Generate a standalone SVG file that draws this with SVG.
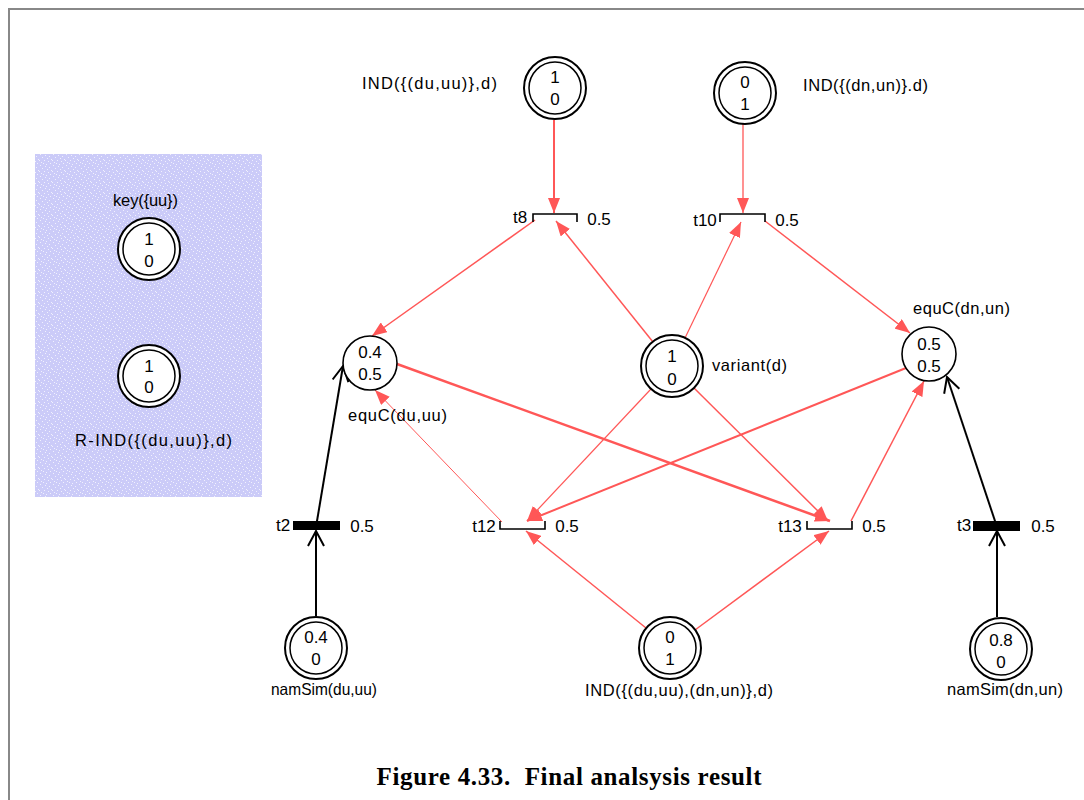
<svg xmlns="http://www.w3.org/2000/svg" width="1084" height="800" viewBox="0 0 1084 800">
  <style>
    .t { font-family: "Liberation Sans", Arial, sans-serif; font-size: 16.5px; fill: #000; }
    .n { font-family: "Liberation Sans", Arial, sans-serif; font-size: 17px; fill: #000; text-anchor: middle; }
    .outer { fill: #fff; stroke: #000; stroke-width: 2; }
    .inner { fill: none; stroke: #000; stroke-width: 1.5; }
    .single { fill: #fff; stroke: #000; stroke-width: 1.6; }
    .bar { fill: none; stroke: #000; stroke-width: 1.6; }
    .solid { fill: #000; }
    .red { stroke: #ff5757; fill: none; marker-end: url(#ah); }
    .blk { stroke: #000; fill: none; stroke-width: 2; marker-end: url(#av); }
    .cap { font-family: "Liberation Serif", "Times New Roman", serif; font-weight: bold; font-size: 25px; fill: #000; text-anchor: middle; }
  </style>
  <defs>
    <marker id="ah" markerWidth="16" markerHeight="12" refX="15" refY="6" orient="auto" markerUnits="userSpaceOnUse">
      <path d="M0,0 L15,6 L0,12 z" fill="#ff5757"/>
    </marker>
    <marker id="av" markerWidth="18" markerHeight="20" refX="16" refY="9" orient="auto" markerUnits="userSpaceOnUse">
      <path d="M1,1 L16,9 L1,17" fill="none" stroke="#000" stroke-width="2"/>
    </marker>
    <pattern id="speck" width="13" height="11" patternUnits="userSpaceOnUse">
      <rect width="13" height="11" fill="#cbcbf8"/>
      <g fill="#fff" opacity="0.7">
        <rect x="1" y="0" width="1" height="1"/>
        <rect x="6" y="1" width="1" height="1"/>
        <rect x="10" y="2" width="1" height="1"/>
        <rect x="3" y="3" width="1" height="1"/>
        <rect x="8" y="4" width="1" height="1"/>
        <rect x="12" y="5" width="1" height="1"/>
        <rect x="0" y="6" width="1" height="1"/>
        <rect x="5" y="6" width="1" height="1"/>
        <rect x="9" y="7" width="1" height="1"/>
        <rect x="2" y="8" width="1" height="1"/>
        <rect x="11" y="9" width="1" height="1"/>
        <rect x="7" y="10" width="1" height="1"/>
        <rect x="4" y="9" width="1" height="1"/>
      </g>
    </pattern>
  </defs>

  <rect width="1084" height="800" fill="#fff"/>
  <!-- page frame -->
  <path d="M9,800 V9 H1084" fill="none" stroke="#888" stroke-width="2"/>

  <!-- shaded panel -->
  <rect x="35" y="154" width="227" height="343" fill="url(#speck)"/>

  <!-- connectors -->
  <g id="connectors">
    <line class="red" x1="554" y1="120" x2="554" y2="213" stroke-width="2"/>
    <line class="red" x1="743" y1="124" x2="743" y2="213" stroke-width="1.3"/>
    <line class="red" x1="535" y1="220" x2="372" y2="336" stroke-width="1.5"/>
    <line class="red" x1="653" y1="342" x2="556" y2="221" stroke-width="1.5"/>
    <line class="red" x1="685" y1="338" x2="741" y2="222" stroke-width="1.2"/>
    <line class="red" x1="765" y1="221" x2="910" y2="333" stroke-width="1.5"/>
    <line class="red" x1="397" y1="364" x2="830" y2="521" stroke-width="2.5"/>
    <line class="red" x1="906" y1="368" x2="527" y2="521" stroke-width="2"/>
    <line class="red" x1="651" y1="389" x2="527" y2="521" stroke-width="1.2"/>
    <line class="red" x1="694" y1="388" x2="828" y2="521" stroke-width="1.5"/>
    <line class="red" x1="502" y1="522" x2="375" y2="390" stroke-width="1"/>
    <line class="red" x1="851" y1="521" x2="924" y2="381" stroke-width="1.5"/>
    <line class="red" x1="646" y1="628" x2="526" y2="531" stroke-width="1.5"/>
    <line class="red" x1="695" y1="630" x2="829" y2="531" stroke-width="1.5"/>
    <line class="blk" x1="316" y1="616" x2="316" y2="531"/>
    <line class="blk" x1="316" y1="527" x2="343" y2="366"/>
    <line class="blk" x1="997" y1="617" x2="997" y2="531"/>
    <line class="blk" x1="997" y1="527" x2="947" y2="377"/>
  </g>

  <!-- places -->
  <g id="p-key">
    <circle class="outer" cx="149" cy="249" r="31"/>
    <circle class="inner" cx="149" cy="249" r="26"/>
    <text class="n" x="149" y="245">1</text>
    <text class="n" x="149" y="267">0</text>
    <text class="t" x="113" y="206" textLength="65" lengthAdjust="spacing">key({uu})</text>
  </g>
  <g id="p-rind">
    <circle class="outer" cx="149" cy="376" r="31"/>
    <circle class="inner" cx="149" cy="376" r="26"/>
    <text class="n" x="149" y="372">1</text>
    <text class="n" x="149" y="393">0</text>
    <text class="t" x="75" y="446" textLength="157" lengthAdjust="spacing">R-IND({(du,uu)},d)</text>
  </g>
  <g id="p-ind-du">
    <circle class="outer" cx="555" cy="88" r="31"/>
    <circle class="inner" cx="555" cy="88" r="26"/>
    <text class="n" x="555" y="83">1</text>
    <text class="n" x="555" y="105">0</text>
    <text class="t" x="362" y="89" textLength="135" lengthAdjust="spacing">IND({(du,uu)},d)</text>
  </g>
  <g id="p-ind-dn">
    <circle class="outer" cx="745" cy="93" r="31"/>
    <circle class="inner" cx="745" cy="93" r="26"/>
    <text class="n" x="745" y="88">0</text>
    <text class="n" x="745" y="110">1</text>
    <text class="t" x="803" y="91" textLength="125" lengthAdjust="spacing">IND({(dn,un)}.d)</text>
  </g>
  <g id="p-equc-du">
    <circle class="single" cx="370" cy="363" r="27"/>
    <text class="n" x="370" y="358">0.4</text>
    <text class="n" x="370" y="380">0.5</text>
    <text class="t" x="348" y="421" textLength="99" lengthAdjust="spacing">equC(du,uu)</text>
  </g>
  <g id="p-variant">
    <circle class="outer" cx="672" cy="366" r="31"/>
    <circle class="inner" cx="672" cy="366" r="26"/>
    <text class="n" x="672" y="362">1</text>
    <text class="n" x="672" y="385">0</text>
    <text class="t" x="712" y="371" textLength="75" lengthAdjust="spacing">variant(d)</text>
  </g>
  <g id="p-equc-dn">
    <circle class="single" cx="929" cy="354" r="27"/>
    <text class="n" x="929" y="350">0.5</text>
    <text class="n" x="929" y="372">0.5</text>
    <text class="t" x="913" y="314" textLength="97" lengthAdjust="spacing">equC(dn,un)</text>
  </g>
  <g id="p-namsim-du">
    <circle class="outer" cx="316" cy="648" r="31"/>
    <circle class="inner" cx="316" cy="648" r="26"/>
    <text class="n" x="316" y="643">0.4</text>
    <text class="n" x="316" y="665">0</text>
    <text class="t" x="271" y="695" textLength="106" lengthAdjust="spacingAndGlyphs">namSim(du,uu)</text>
  </g>
  <g id="p-ind-both">
    <circle class="outer" cx="670" cy="648" r="31"/>
    <circle class="inner" cx="670" cy="648" r="26"/>
    <text class="n" x="670" y="643">0</text>
    <text class="n" x="670" y="665">1</text>
    <text class="t" x="585" y="696" textLength="188" lengthAdjust="spacing">IND({(du,uu),(dn,un)},d)</text>
  </g>
  <g id="p-namsim-dn">
    <circle class="outer" cx="1001" cy="649" r="31"/>
    <circle class="inner" cx="1001" cy="649" r="26"/>
    <text class="n" x="1001" y="646">0.8</text>
    <text class="n" x="1001" y="668">0</text>
    <text class="t" x="947" y="695" textLength="116" lengthAdjust="spacing">namSim(dn,un)</text>
  </g>

  <!-- transitions -->
  <g id="t8">
    <path class="bar" d="M533,222 V214 H577 V222"/>
    <text class="n" x="520" y="223">t8</text>
    <text class="n" x="599" y="225">0.5</text>
  </g>
  <g id="t10">
    <path class="bar" d="M720,222 V214 H765 V222"/>
    <text class="n" x="705" y="226">t10</text>
    <text class="n" x="787" y="226">0.5</text>
  </g>
  <g id="t12">
    <path class="bar" d="M500,521 V529 H545 V521"/>
    <text class="n" x="484" y="532">t12</text>
    <text class="n" x="567" y="532">0.5</text>
  </g>
  <g id="t13">
    <path class="bar" d="M807,521 V529 H852 V521"/>
    <text class="n" x="790" y="532">t13</text>
    <text class="n" x="874" y="532">0.5</text>
  </g>
  <g id="t2">
    <rect class="solid" x="293" y="521" width="47" height="9"/>
    <text class="n" x="283" y="531">t2</text>
    <text class="n" x="362" y="532">0.5</text>
  </g>
  <g id="t3">
    <rect class="solid" x="973" y="521" width="47" height="10"/>
    <text class="n" x="964" y="531">t3</text>
    <text class="n" x="1043" y="532">0.5</text>
  </g>

  <text class="cap" x="569" y="785" textLength="385" lengthAdjust="spacing" xml:space="preserve">Figure 4.33.  Final analsysis result</text>
</svg>
